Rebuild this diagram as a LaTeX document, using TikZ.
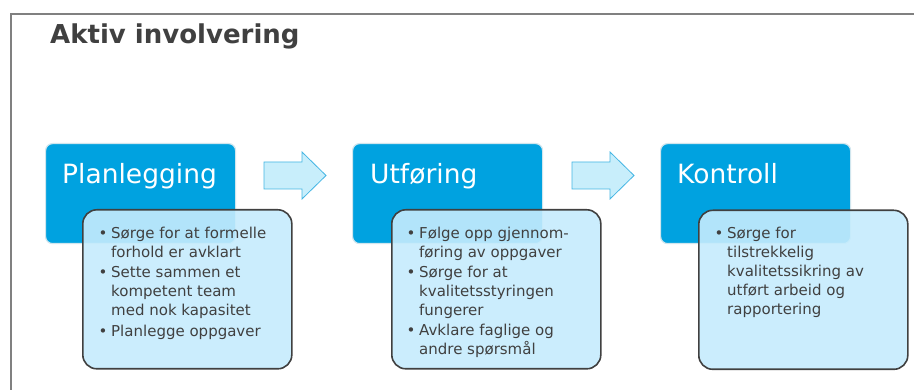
\documentclass[tikz,border=0pt]{standalone}
\usepackage{fontspec}
\setmainfont{DejaVu Sans}
\definecolor{stageblue}{RGB}{0,162,224}
\definecolor{boxedge}{RGB}{208,230,238}
\definecolor{detailfill}{RGB}{198,236,253}
\definecolor{detailedge}{RGB}{64,64,64}
\definecolor{arrowfill}{RGB}{200,238,251}
\definecolor{arrowedge}{RGB}{69,182,228}
\definecolor{textgray}{RGB}{64,64,64}
\definecolor{framegray}{RGB}{128,128,128}
\begin{document}
\begin{tikzpicture}[x=1pt,y=1pt,
  bluebox/.style={draw=boxedge, line width=1.2pt, fill=stageblue, rounded corners=7pt,
    minimum width=190pt, minimum height=100pt, anchor=north west, inner sep=0pt},
  heading/.style={text=white, font=\fontsize{26.5}{30}\selectfont, anchor=base west, inner sep=0pt},
  detailbox/.style={draw=detailedge, line width=1.6pt, fill=detailfill, fill opacity=0.9,
    rounded corners=14pt, minimum width=209pt, minimum height=159pt, anchor=north west, inner sep=0pt},
  textline/.style={text=textgray, font=\fontsize{15}{18}\selectfont, anchor=base west, inner sep=0pt},
  bulletmark/.style={textline},
  blockarrow/.style={draw=arrowedge, line width=0.8pt, fill=arrowfill}]
\useasboundingbox (0,0) rectangle (914,-390);
\fill[white] (0,0) rectangle (914,-390);
% frame
\draw[framegray, line width=1.2pt] (11,-391) -- (11,-14) -- (915,-14);
% title
\node[anchor=base west, inner sep=0pt, text=textgray, font=\bfseries\fontsize{26}{30}\selectfont] (title) at (50,-44) {Aktiv involvering};
% stage boxes
\node[bluebox] (b1) at (45,-143) {};
\node[bluebox] (b2) at (352,-143) {};
\node[bluebox] (b3) at (660,-143) {};
\node[heading] (h1) at (62,-184) {Planlegging};
\node[heading] (h2) at (370,-184) {Utføring};
\node[heading] (h3) at (677,-184) {Kontroll};
% block arrows
\draw[blockarrow] (264,-162) -- (302,-162) -- (302,-152) -- (326,-175.5) -- (302,-199) -- (302,-189) -- (264,-189) -- cycle;
\draw[blockarrow] (572,-162) -- (610,-162) -- (610,-152) -- (634,-175.5) -- (610,-199) -- (610,-189) -- (572,-189) -- cycle;
% detail boxes
\node[detailbox] (d1) at (82,-209) {};
\node[detailbox] (d2) at (391,-209) {};
\node[detailbox] (d3) at (698,-209.5) {};
% Planlegging bullets
\foreach \y/\t [count=\i] in {239/{Sørge for at formelle}, 258/{forhold er avklart},
  278/{Sette sammen et}, 297/{kompetent team}, 315.5/{med nok kapasitet}, 337/{Planlegge oppgaver}}
  \node[textline] (pl\i) at (111,-\y) {\t};
\foreach \y [count=\i] in {239,278,337}
  \node[bulletmark] (pb\i) at (98.5,-\y) {•};
% Utføring bullets
\foreach \y/\t [count=\i] in {239/{Følge opp gjennom-}, 258/{føring av oppgaver},
  278/{Sørge for at}, 297/{kvalitetsstyringen}, 315.5/{fungerer}, 336/{Avklare faglige og}, 354.5/{andre spørsmål}}
  \node[textline] (ul\i) at (419,-\y) {\t};
\foreach \y [count=\i] in {239,278,336}
  \node[bulletmark] (ub\i) at (406.5,-\y) {•};
% Kontroll bullets
\foreach \y/\t [count=\i] in {239/{Sørge for}, 258/{tilstrekkelig},
  277/{kvalitetssikring av}, 296/{utført arbeid og}, 314.5/{rapportering}}
  \node[textline] (kl\i) at (727,-\y) {\t};
\node[bulletmark] (kb1) at (714.5,-239) {•};
\end{tikzpicture}
\end{document}
